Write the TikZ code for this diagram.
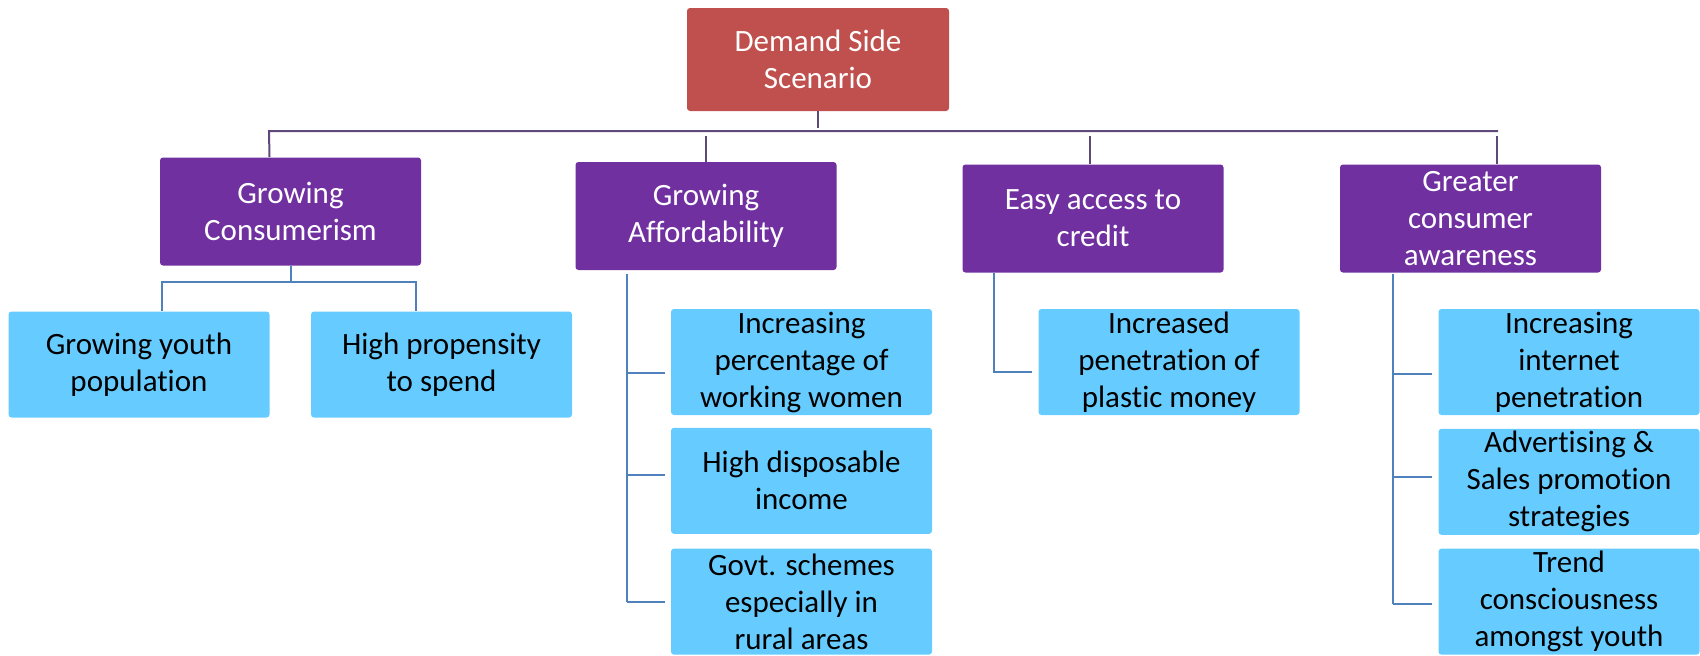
\documentclass[tikz,border=0pt]{standalone}
\usepackage{fontspec}
\setmainfont{Carlito}[Ligatures={NoCommon}]
\usepackage{tikz}
\usetikzlibrary{positioning}

\definecolor{headred}{HTML}{C0504D}
\definecolor{causepurple}{HTML}{7030A0}
\definecolor{factorblue}{HTML}{66CCFF}
\definecolor{busline}{HTML}{5F497A}
\definecolor{linkblue}{HTML}{4F81BD}

\begin{document}
\begin{tikzpicture}[x=0.5pt,y=-0.5pt,
        box/.style={rectangle, rounded corners=1.5pt, inner sep=0pt, minimum width=130.5pt,
            minimum height=53pt, align=center, font=\fontsize{15.5}{18.5}\selectfont},
        head/.style={box, fill=headred, text=white, minimum width=131pt, minimum height=51.5pt},
        cause/.style={box, fill=causepurple, text=white, minimum height=54pt},
        factor/.style={box, fill=factorblue, text=black},
        bus/.style={draw=busline, line width=1pt},
        link/.style={draw=linkblue, line width=1pt},
        tick/.style={link, shorten >=3pt}]
        \useasboundingbox (0,0) rectangle (1700,655);

        % Nodes
        \node[head]  (dss) at (818,59.5)   {Demand Side\\Scenario};
        \node[cause] (gc)  at (290.5,211.5) {Growing\\Consumerism};
        \node[cause] (ga)  at (706,216)    {Growing\\Affordability};
        \node[cause] (eac) at (1093,218.5) {Easy access to\\credit};
        \node[cause] (gca) at (1470.5,218.5) {Greater\\consumer\\awareness};

        \node[factor] (youth) at (139,364.5)  {Growing youth\\population};
        \node[factor] (spend) at (441.5,364.5) {High propensity\\to spend};

        \node[factor] (women) at (801.5,362) {Increasing\\percentage of\\working women};
        \node[factor, below=6pt of women]  (income) {High disposable\\income};
        \node[factor, below=7pt of income] (govt)   {Govt. schemes\\especially in\\rural areas};

        \node[factor] (plastic) at (1169,362) {Increased\\penetration of\\plastic money};

        \node[factor] (internet) at (1569,362) {Increasing\\internet\\penetration};
        \node[factor, below=6.5pt of internet] (advert) {Advertising \&\\Sales promotion\\strategies};
        \node[factor, below=6.5pt of advert]   (trend)  {Trend\\consciousness\\amongst youth};

        \coordinate (busl) at (269,131);
        \coordinate (busr) at (1498,131);

        % Top level
        \draw[bus] (dss.south) -- ++(0,17);
        \draw[bus] ([xshift=-10.5pt]gc.north) -- (busl) -- (busr);
        \draw[bus] (ga.north) -- ++(0,-26);
        \draw[bus] ([xshift=-1.5pt]eac.north) -- ++(0,-28);
        \draw[bus] ([xshift=13.25pt]gca.north) -- ++(0,-28);

        % Growing consumerism
        \draw[link] (gc.south) -- ++(0,16);
        \draw[link] ([xshift=11.5pt]youth.north) -- ++(0,-29) -| ([xshift=-12.75pt]spend.north);

        % Growing affordability
        \draw[link] ([xshift=26pt,yshift=-2pt]ga.south west) -- ([xshift=26pt]ga.south west |- govt.west);
        \draw[tick] ([xshift=26pt,yshift=-5.5pt]ga.south west |- women.west) -- ([yshift=-5.5pt]women.west);
        \draw[tick] ([xshift=26pt,yshift=3pt]ga.south west |- income.west) -- ([yshift=3pt]income.west);
        \draw[tick] ([xshift=26pt]ga.south west |- govt.west) -- (govt.west);

        % Easy access to credit
        \draw[tick] ([xshift=16pt]eac.south west) |- ([yshift=-5pt]plastic.west);

        % Consumer awareness
        \draw[link] ([xshift=26.5pt,yshift=-0.5pt]gca.south west) -- ([xshift=26.5pt,yshift=-1pt]gca.south west |- trend.west);
        \draw[tick] ([xshift=26.5pt,yshift=-6pt]gca.south west |- internet.west) -- ([yshift=-6pt]internet.west);
        \draw[tick] ([xshift=26.5pt,yshift=2.5pt]gca.south west |- advert.west) -- ([yshift=2.5pt]advert.west);
        \draw[tick] ([xshift=26.5pt,yshift=-1pt]gca.south west |- trend.west) -- ([yshift=-1pt]trend.west);
\end{tikzpicture}
\end{document}
